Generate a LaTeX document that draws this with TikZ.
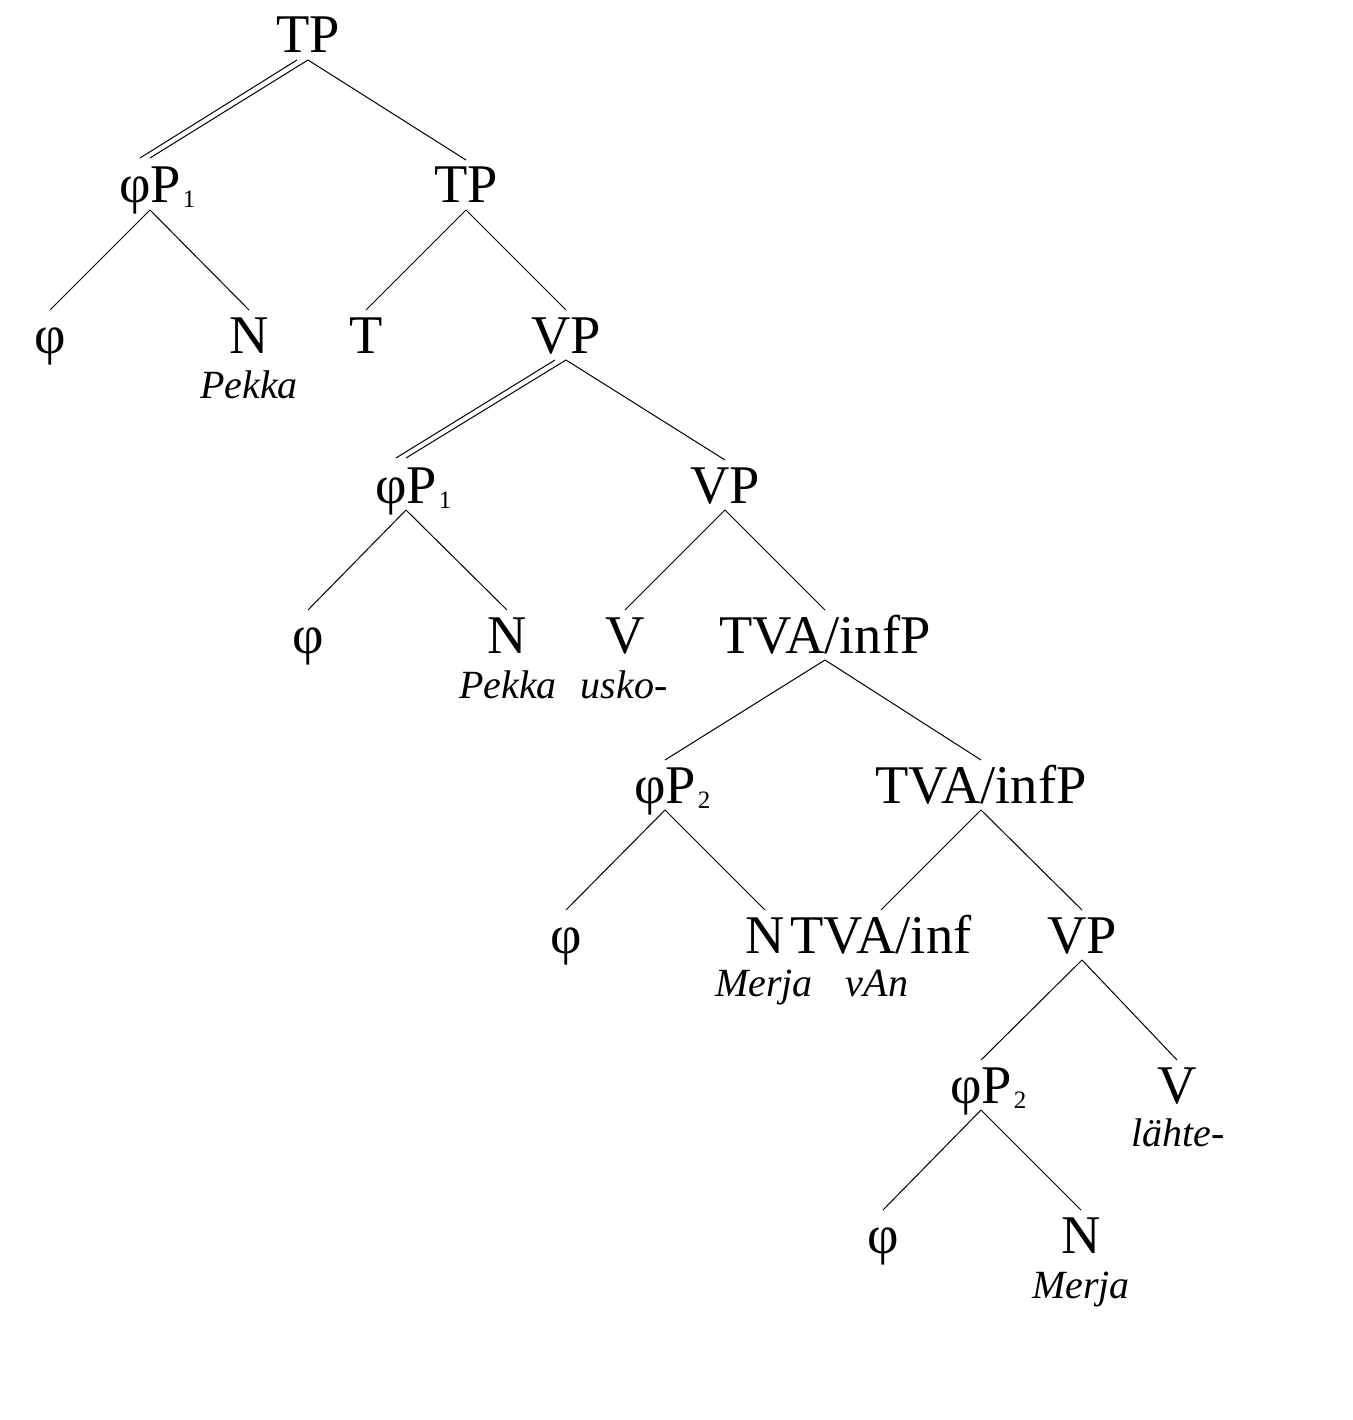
\documentclass[tikz,border=0pt]{standalone}
\usepackage{fontspec}
\setmainfont{Liberation Serif}
\usetikzlibrary{calc}

% label sizes
\newcommand{\catfont}{\fontsize{54.5}{54.5}\selectfont}
\newcommand{\lexfont}{\fontsize{40}{40}\selectfont\itshape}
\newcommand{\idx}[1]{\rlap{\kern2pt\raisebox{-5pt}{\fontsize{25}{25}\selectfont #1}}}

\tikzset{
  cat/.style={anchor=base, inner sep=0pt, font=\catfont},
  lex/.style={anchor=base, inner sep=0pt, font=\lexfont},
  branch/.style={line width=1pt, black},
}

% plain branch: from below the mother label to above the daughter label
\newcommand{\branch}[2]{\draw[branch] ($(#1.base)+(0,7)$) -- ($(#2.base)+(0,-43)$);}
% doubled branch (moved constituent)
\newcommand{\dbranch}[2]{%
  \draw[branch] ($(#1.base)+(0,7)$) -- ($(#2.base)+(0,-45)$);
  \draw[branch] ($(#1.base)+(-11,7)$) -- ($(#2.base)+(-10,-45)$);}

\begin{document}
\begin{tikzpicture}[x=1pt,y=-1pt]
\useasboundingbox (0,0) rectangle (1352,1420);

% level 1--2
\node[cat] (tp0)   at (308,53)  {TP};
\node[cat] (phi1a) at (150,203) {φP\idx{1}};
\node[cat] (tp1)   at (466,203) {TP};

% level 3
\node[cat] (f1)  at (50,353)  {φ};
\node[cat] (n1)  at (249,353) {N};
\node[lex] (pek1) at (249,398) {Pekka};
\node[cat] (t1)  at (366,353) {T};
\node[cat] (vp1) at (566,353) {VP};

% level 4
\node[cat] (phi1b) at (406,503) {φP\idx{1}};
\node[cat] (vp2)   at (725,503) {VP};

% level 5
\node[cat] (f2)   at (308,653) {φ};
\node[cat] (n2)   at (507,653) {N};
\node[lex] (pek2) at (508,698) {Pekka};
\node[cat] (v2)   at (625,653) {V};
\node[lex] (usko) at (624,698) {usko-};
\node[cat] (tva1) at (825,653) {TVA/infP};

% level 6
\node[cat] (phi2a) at (665,803) {φP\idx{2}};
\node[cat] (tva2)  at (981,803) {TVA/infP};

% level 7
\node[cat] (f3)    at (566,953) {φ};
\node[cat] (n3)    at (765,953) {N};
\node[lex] (mer1)  at (764,996) {Merja};
\node[cat] (tvai)  at (881,953) {TVA/inf};
\node[lex] (van)   at (877,996) {vAn};
\node[cat] (vp3)   at (1082,953) {VP};

% level 8
\node[cat] (phi2b) at (981,1103) {φP\idx{2}};
\node[cat] (v3)    at (1177,1103) {V};
\node[lex] (lahte) at (1178,1146) {lähte-};

% level 9
\node[cat] (f4)   at (883,1253) {φ};
\node[cat] (n4)   at (1081,1253) {N};
\node[lex] (mer2) at (1081,1298) {Merja};

% branches
\dbranch{tp0}{phi1a}
\branch{tp0}{tp1}
\branch{phi1a}{f1}
\branch{phi1a}{n1}
\branch{tp1}{t1}
\branch{tp1}{vp1}
\dbranch{vp1}{phi1b}
\branch{vp1}{vp2}
\branch{phi1b}{f2}
\branch{phi1b}{n2}
\branch{vp2}{v2}
\branch{vp2}{tva1}
\branch{tva1}{phi2a}
\branch{tva1}{tva2}
\branch{phi2a}{f3}
\branch{phi2a}{n3}
\branch{tva2}{tvai}
\branch{tva2}{vp3}
\branch{vp3}{phi2b}
\branch{vp3}{v3}
\branch{phi2b}{f4}
\branch{phi2b}{n4}
\end{tikzpicture}
\end{document}
